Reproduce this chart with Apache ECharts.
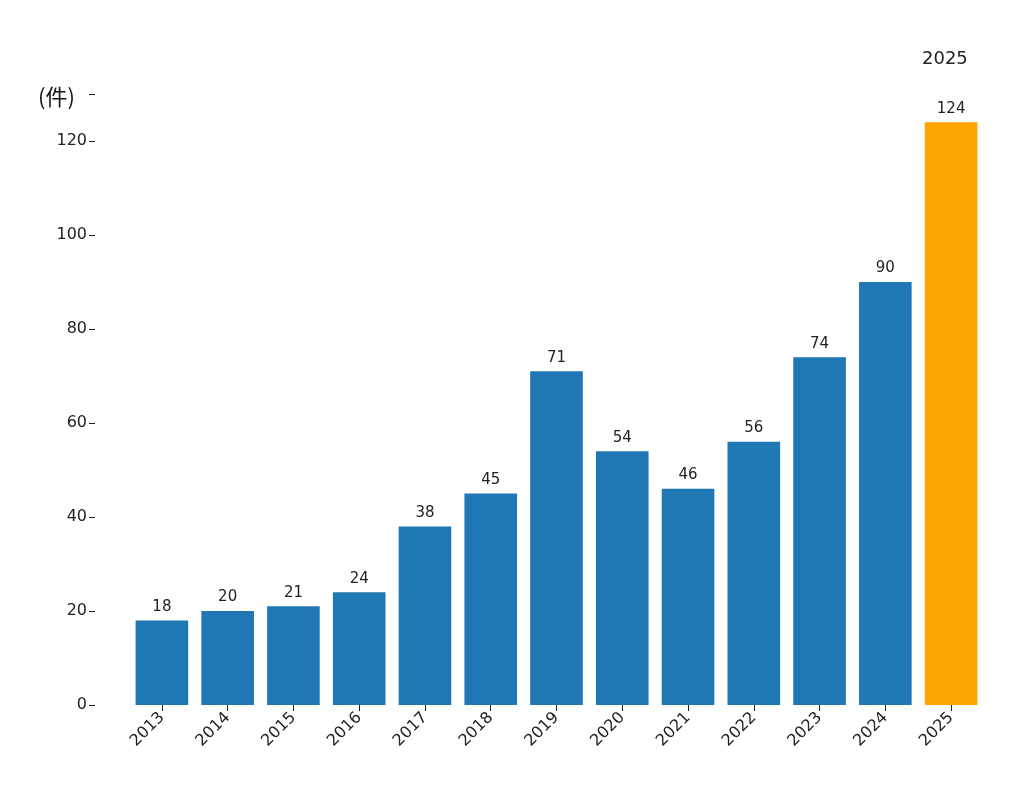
<!DOCTYPE html>
<html><head><meta charset="utf-8">
<script src="https://cdn.jsdelivr.net/npm/echarts@6/dist/echarts.min.js"></script>
<style>html,body{margin:0;background:#fff}#main{width:1024px;height:797px}</style>
</head><body><div id="main"></div>
<script>
var years = ['2013','2014','2015','2016','2017','2018','2019','2020','2021','2022','2023','2024','2025'];
var counts = [18, 20, 21, 24, 38, 45, 71, 54, 46, 56, 74, 90, 124];
var yTicks = [0, 20, 40, 60, 80, 100, 120];
var font = 'DejaVu Sans';

var chart = echarts.init(document.getElementById('main'));
var option = {
    animation: false,
    textStyle: {fontFamily: font},
    grid: {left: 129, right: 40, top: 94, bottom: 92},
    graphic: [
        {type: 'text', left: 38, top: 86, style: {text: '(件)', font: '22px "Noto Sans CJK JP"', fill: '#111'}},
        {type: 'text', left: 922, top: 50, style: {text: '2025', font: '18px ' + font, fill: '#222'}}
    ],
    xAxis: {
        type: 'category',
        data: years,
        axisLine: {show: false},
        axisTick: {show: true, alignWithLabel: true, length: 6, lineStyle: {color: '#222'}},
        axisLabel: {rotate: 45, fontSize: 16, color: '#222', margin: 10}
    },
    yAxis: {
        type: 'value',
        min: 0, max: 130, interval: 20,
        offset: 34,
        splitLine: {show: false},
        axisLine: {show: false},
        axisTick: {show: true, length: 6, lineStyle: {color: '#222'}},
        axisLabel: {fontSize: 16, color: '#222', margin: 8,
            formatter: function (v) { return yTicks.indexOf(v) >= 0 ? v : ''; }}
    },
    series: [{
        type: 'bar',
        barCategoryGap: '20%',
        data: counts.map(function (v, i) {
            return {value: v, itemStyle: {color: i === counts.length - 1 ? '#ffa500' : '#1f77b4'}};
        }),
        label: {show: true, position: 'top', fontSize: 15, color: '#222', distance: 6}
    }]
};
chart.setOption(option);
</script></body></html>
